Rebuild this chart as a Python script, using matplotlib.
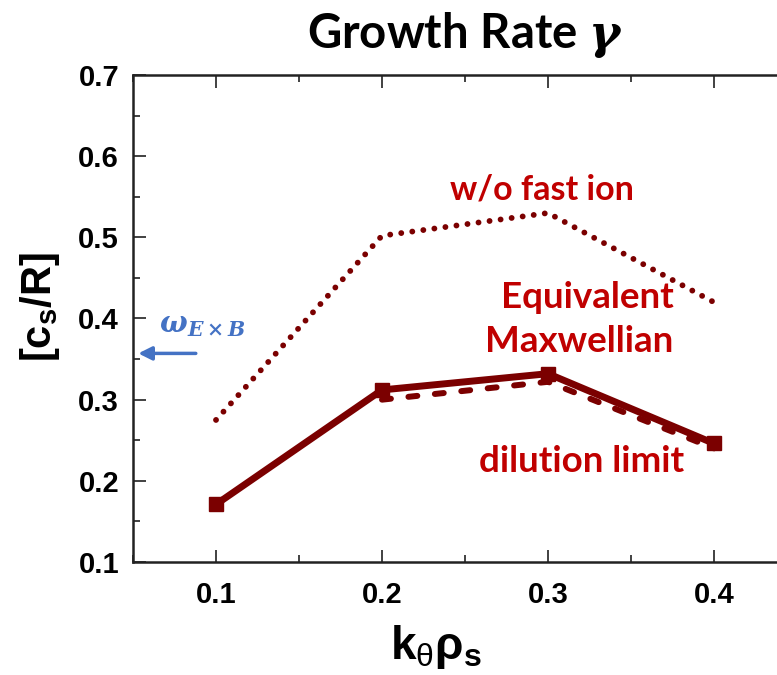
import matplotlib
matplotlib.use("Agg")
import matplotlib.pyplot as plt
from matplotlib.ticker import MultipleLocator

# growth rate vs k_theta rho_s
k_vals = [0.1, 0.2, 0.3, 0.4]
gamma_equiv = [0.171, 0.312, 0.332, 0.246]
k_dil = [0.2, 0.3, 0.4]
gamma_dil = [0.300, 0.322, 0.240]
gamma_nofast = [0.275, 0.502, 0.530, 0.420]
x_ticks = [0.1, 0.2, 0.3, 0.4]
y_ticks = [0.1, 0.2, 0.3, 0.4, 0.5, 0.6, 0.7]

dark_red = "#7b0000"
text_red = "#c00000"
blue = "#4472c4"

plt.rcParams["mathtext.fontset"] = "custom"
plt.rcParams["mathtext.bf"] = "Liberation Sans:bold"
plt.rcParams["mathtext.rm"] = "Liberation Sans"
plt.rcParams["mathtext.it"] = "DejaVu Serif:italic"
plt.rcParams["mathtext.bfit"] = "DejaVu Serif:italic:bold"

fig = plt.figure(figsize=(7.77, 6.75), dpi=100)
# axes run off the right edge of the figure
ax = fig.add_axes([133 / 777, 1 - 562 / 675, 664 / 777, 487 / 675])

ax.plot(k_vals, gamma_nofast, color=dark_red, lw=4.2, ls=(0, (0.01, 1.9)),
        dash_capstyle="round")
ax.plot(k_dil, gamma_dil, color=dark_red, lw=4.3, ls=(0, (1.5, 2.95)),
        dash_capstyle="round")
ax.plot(k_vals, gamma_equiv, color=dark_red, lw=5, marker="s", ms=9.5)

ax.set_xlim(0.05, 0.45)
ax.set_ylim(0.1, 0.7)
ax.xaxis.set_minor_locator(MultipleLocator(0.05))
ax.yaxis.set_minor_locator(MultipleLocator(0.05))
ax.set_xticks(x_ticks)
ax.set_xticklabels([f"{v:.1f}" for v in x_ticks], fontfamily="Liberation Sans",
                   fontweight="bold", fontsize=21)
ax.set_yticks(y_ticks)
ax.set_yticklabels([f"{v:.1f}" for v in y_ticks], fontfamily="Liberation Sans",
                   fontweight="bold", fontsize=21)
ax.tick_params(which="both", direction="in", top=True, right=False,
               width=1.3, color="#333333")
ax.tick_params(which="major", length=9)
ax.tick_params(which="minor", length=5)
ax.tick_params(axis="x", pad=14)
ax.tick_params(axis="y", pad=10)
for s in ax.spines.values():
    s.set_linewidth(1.8)
    s.set_color("#222222")

fig.text(40 / 777, 1 - 307 / 675, r"[c$_\mathbf{s}$/R]", rotation=90,
         ha="center", va="center", fontsize=30, fontweight="bold",
         family="Liberation Sans")
fig.text(436 / 777, 1 - 647 / 675, r"k$_\mathrm{\theta}$$\mathbf{\rho}_\mathbf{s}$",
         ha="center", va="center", fontsize=33, fontweight="bold",
         family="Liberation Sans")

fig.text(465 / 777, 1 - 35 / 675, r"Growth Rate $\mathbfit{\gamma}$", ha="center",
         va="center", fontsize=34, fontweight="bold", family="Lato")

ax.text(0.2965, 0.559, "w/o fast ion", ha="center", va="center", fontsize=24.5,
        fontweight="bold", color=text_red, family="Lato")
ax.text(0.3235, 0.426, "Equivalent", ha="center", va="center", fontsize=26.5,
        fontweight="bold", color=text_red, family="Lato")
ax.text(0.3185, 0.372, "Maxwellian", ha="center", va="center", fontsize=26.5,
        fontweight="bold", color=text_red, family="Lato")
ax.text(0.3205, 0.224, "dilution limit", ha="center", va="center", fontsize=26.5,
        fontweight="bold", color=text_red, family="Lato")

ax.text(0.0915, 0.392, r"$\mathbfit{\omega_{E\times B}}$", ha="center", va="center",
        fontsize=21, color=blue)
ax.annotate("", xy=(0.0515, 0.357), xytext=(0.0895, 0.357),
            arrowprops=dict(arrowstyle="-|>", color=blue, lw=2.5,
                            mutation_scale=20))

fig.savefig("out.png", dpi=100)
